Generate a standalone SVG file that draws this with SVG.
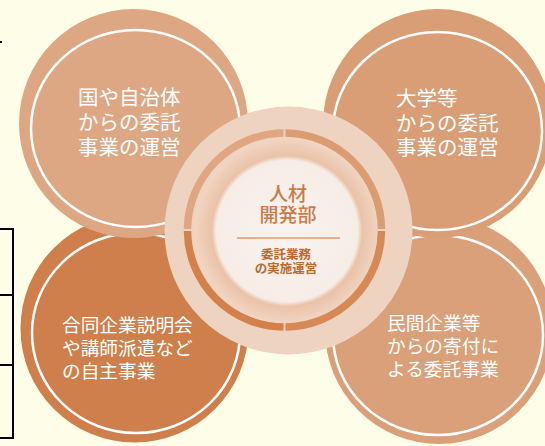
<svg xmlns="http://www.w3.org/2000/svg" width="545" height="446" viewBox="0 0 545 446">
<defs>
<style>
.ring{fill:none;stroke:#ffffff;stroke-width:2.5}
.lbl{font-family:"Noto Sans CJK JP","Noto Sans",sans-serif;fill:#ffffff}
.big{font-size:20.5px}
.sml{font-size:18.7px}
.ctr{font-family:"Noto Sans CJK JP","Noto Sans",sans-serif;text-anchor:middle}
.ttl{font-size:19px;fill:#C97B49;font-weight:500}
.sub{font-size:12.5px;fill:#C0672C;font-weight:bold}
.seg{fill:none;stroke-width:7.5}
</style>
<radialGradient id="core" cx="0.5" cy="0.5" r="0.5">
<stop offset="0" stop-color="#F9F2EE"/>
<stop offset="0.76" stop-color="#F7EDE7"/>
<stop offset="0.81" stop-color="#EAC2A7"/>
<stop offset="1" stop-color="#F1D6C4"/>
</radialGradient>
</defs>
<rect width="545" height="446" fill="#FEFEE8"/>
<g id="frame" fill="none" stroke="#000000" stroke-width="2">
<path d="M0 229 H13 V438 H0 M0 295 H13 M0 365 H13"/>
<path d="M0 42 H2"/>
</g>
<g id="node-bl">
<circle cx="134.5" cy="328.5" r="114" fill="#CF7F4B"/>
<ellipse class="ring" cx="136" cy="333" rx="104" ry="100"/>
<text class="lbl sml" x="62" y="332">合同企業説明会</text>
<text class="lbl sml" x="62" y="355">や講師派遣など</text>
<text class="lbl sml" x="62" y="378">の自主事業</text>
</g>
<g id="node-br">
<circle cx="439" cy="330" r="114" fill="#D9A07A"/>
<ellipse class="ring" cx="438" cy="335" rx="105" ry="100"/>
<text class="lbl sml" x="387" y="330">民間企業等</text>
<text class="lbl sml" x="387" y="353">からの寄付に</text>
<text class="lbl sml" x="387" y="376">よる委託事業</text>
</g>
<g id="node-tl">
<circle cx="133.5" cy="123.5" r="114.5" fill="#DEA784"/>
<ellipse class="ring" cx="135.5" cy="128.5" rx="104.5" ry="98.5"/>
<text class="lbl big" x="78" y="105">国や自治体</text>
<text class="lbl big" x="78" y="130">からの委託</text>
<text class="lbl big" x="78" y="155">事業の運営</text>
</g>
<g id="node-tr">
<circle cx="437.5" cy="123.5" r="114.5" fill="#DA9E77"/>
<ellipse class="ring" cx="437.5" cy="131" rx="104.5" ry="99"/>
<text class="lbl big" x="396" y="106">大学等</text>
<text class="lbl big" x="396" y="131">からの委託</text>
<text class="lbl big" x="396" y="155">事業の運営</text>
</g>
<g id="node-center">
<circle cx="288.5" cy="230.5" r="124" fill="#EDD3C0"/>
<circle cx="287" cy="231" r="93" fill="url(#core)"/>
<path class="seg" stroke="#E0A681" d="M187.5 229 A97 97 0 0 1 283.5 133"/>
<path class="seg" stroke="#DC9C71" d="M285.5 133 A97 97 0 0 1 381.5 229"/>
<path class="seg" stroke="#D78955" d="M381.5 231 A97 97 0 0 1 285.5 327"/>
<path class="seg" stroke="#D3804A" d="M283.5 327 A97 97 0 0 1 187.5 231"/>
<text class="ctr ttl" x="288" y="201">人材</text>
<text class="ctr ttl" x="288" y="222">開発部</text>
<line x1="237" y1="238" x2="340" y2="238" stroke="#DC9A6C" stroke-width="1.5"/>
<text class="ctr sub" x="286" y="259">委託業務</text>
<text class="ctr sub" x="286" y="273">の実施運営</text>
</g>
</svg>
